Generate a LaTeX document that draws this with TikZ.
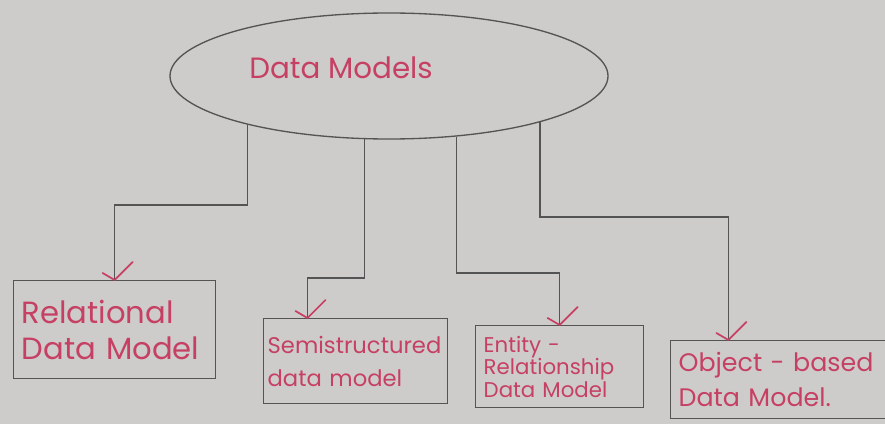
\documentclass[tikz,border=0pt]{standalone}
\usepackage{fontspec}
\setmainfont{Poppins}
\usetikzlibrary{shapes.geometric,calc}
\definecolor{paper}{RGB}{206,204,202}
\definecolor{ink}{RGB}{84,84,84}
\definecolor{pen}{RGB}{198,64,100}
\begin{document}
\begin{tikzpicture}[x=0.75pt,y=-0.75pt,
  conn/.style={draw=ink, line width=1pt},
  boxst/.style={draw=ink, line width=1pt, anchor=north west, inner ysep=0pt, align=left, text=pen},
  tickmark/.pic={\draw[pen, line width=1.3pt, line cap=round, line join=round] (-12,-7) -- (0,0) -- (18,-18);}
]
\useasboundingbox (0,0) rectangle (885,424);
\fill[paper] (0,0) rectangle (885,424);
\clip (0,0) rectangle (885,424);

% top ellipse
\node[draw=ink, line width=1pt, ellipse, minimum width=328.5pt, minimum height=94.5pt, inner sep=0pt] (dm) at (389,76) {};
\node[text=pen, font=\fontsize{22}{26}\selectfont, inner sep=0pt] (dmt) at (341,68) {Data Models};

% boxes
\node[boxst, inner xsep=6pt, text width=139.5pt, minimum height=73.5pt, font=\fontsize{23}{27}\selectfont] (rel) at (13,280) {Relational\\Data Model};
\node[boxst, inner xsep=3pt, text width=132pt, minimum height=63.75pt, font=\fontsize{17}{25}\selectfont] (semi) at (263,318) {Semistructured\\data model};
\node[boxst, inner xsep=6pt, text width=114pt, minimum height=61.5pt, font=\fontsize{16}{17}\selectfont] (er) at (475,325) {Entity -\\Relationship\\Data Model};
\node[boxst, inner xsep=6pt, text width=149.25pt, minimum height=58.5pt, font=\fontsize{19}{26}\selectfont] (obj) at (670,340) {\mbox{Object - based}\\\mbox{Data Model.}};

% connectors
\draw[conn] (dm.199.5) -- (dm.199.5 |- 0,205) -| (rel.north);
\coordinate (semiin) at ($(semi.north west)!0.24!(semi.north east)$);
\draw[conn] (dm.249.8) -- (dm.249.8 |- 0,278) -| (semiin);
\draw[conn] (dm.318.6) -- (dm.318.6 |- 0,273) -| (er.north);
\coordinate (objin) at ($(obj.north west)!0.27!(obj.north east)$);
\draw[conn] (dm.343) -- (dm.343 |- 0,217) -| (objin);

% check-mark arrow ends
\pic at (rel.north) {tickmark};
\pic at (semiin) {tickmark};
\pic at (er.north) {tickmark};
\pic at (objin) {tickmark};
\end{tikzpicture}
\end{document}
